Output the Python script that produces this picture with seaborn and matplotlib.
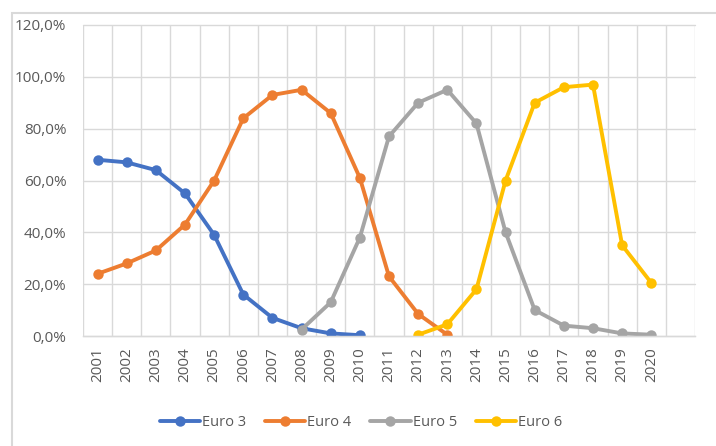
import numpy as np
import pandas as pd
import matplotlib
matplotlib.use("Agg")
import matplotlib.pyplot as plt
from matplotlib.ticker import FuncFormatter, FixedLocator
from matplotlib.patches import Rectangle
import seaborn as sns

years = [str(y) for y in range(2001, 2021)]
euro3 = [68, 67, 64, 55, 39, 16, 7, 3, 1, 0.3] + [None] * 10
euro4 = [24, 28, 33, 43, 60, 84, 93, 95, 86, 61, 23, 8.5, 0.5] + [None] * 7
euro5 = [None] * 7 + [2.5, 13, 38, 77, 90, 95, 82, 40, 10, 4, 3, 1, 0.5]
euro6 = [None] * 11 + [0.5, 4.5, 18, 60, 90, 96, 97, 35, 20.5]
series_names = ["Euro 3", "Euro 4", "Euro 5", "Euro 6"]
colors = ["#4472C4", "#ED7D31", "#A5A5A5", "#FFC000"]

rows = []
for name, vals in zip(series_names, [euro3, euro4, euro5, euro6]):
    for i, v in enumerate(vals):
        if v is not None:
            rows.append({"idx": i, "share": v, "series": name})
df = pd.DataFrame(rows)

sns.set_theme(style="white")
plt.rcParams['font.family'] = ['Open Sans', 'DejaVu Sans']

fig = plt.figure(figsize=(7.16, 4.46), dpi=100)
ax = fig.add_axes([83/716, 1 - 336/446, (695-83)/716, (336-25)/446])

# outer chart border
fig.patches.append(Rectangle((12/716, -0.05), 1.2, 1 - 13/446 + 0.05,
                             transform=fig.transFigure, fill=False,
                             edgecolor="#D9D9D9", linewidth=1.5))

sns.lineplot(data=df, x="idx", y="share", hue="series", hue_order=series_names,
             palette=colors, marker="o", markersize=7.5, markeredgewidth=0,
             linewidth=2.8, ax=ax, legend=True, sort=True)

ax.set_xlim(-0.5, 20.5)
ax.set_ylim(0, 120)
ax.set_yticks(np.arange(0, 121, 20))
ax.yaxis.set_major_formatter(FuncFormatter(lambda v, p: f"{v:.1f}%".replace(".", ",")))
ax.set_xticks(range(len(years)))
ax.set_xticklabels(years, rotation=90)
ax.xaxis.set_minor_locator(FixedLocator(np.arange(-0.5, 21, 1)))
ax.grid(False)
ax.grid(True, which="minor", axis="x", color="#D9D9D9", linewidth=1)
ax.grid(True, which="major", axis="y", color="#D9D9D9", linewidth=1)
for gl in ax.get_ygridlines():
    gl.set_clip_on(False)
ax.set_axisbelow(True)
ax.tick_params(axis="both", which="both", length=0, labelsize=11, colors="#595959")
ax.tick_params(axis="y", pad=12)
ax.tick_params(axis="x", pad=8)
ax.set_xlabel("")
ax.set_ylabel("")
for s in ["top", "right", "left"]:
    ax.spines[s].set_visible(False)
ax.spines["bottom"].set_color("#D9D9D9")
ax.spines["bottom"].set_linewidth(1)

handles, labels = ax.get_legend_handles_labels()
ax.legend(handles, labels, loc="center", bbox_to_anchor=(361/716, 1 - 423/446),
          bbox_transform=fig.transFigure, ncol=4, frameon=False,
          fontsize=10.5, handlelength=2.75, columnspacing=1.3, handletextpad=0.15,
          labelcolor="#595959")

fig.savefig("out.png", dpi=100)
